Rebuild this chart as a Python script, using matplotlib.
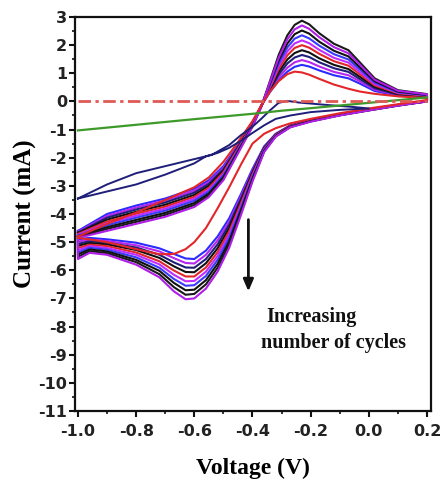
import matplotlib
matplotlib.use("Agg")
import matplotlib.pyplot as plt
from matplotlib.ticker import MultipleLocator

# ---------------- data ----------------
# voltage grids for the anodic (forward) and cathodic (reverse) sweeps
fwd_v = [-1.0, -0.9, -0.8, -0.7, -0.6, -0.55, -0.5, -0.45, -0.4, -0.37, -0.34,
         -0.31, -0.28, -0.255, -0.23, -0.205, -0.17, -0.12, -0.07, -0.03, 0.02, 0.1, 0.2]
rev_v = [0.2, 0.1, 0.0, -0.1, -0.2, -0.27, -0.32, -0.36, -0.4, -0.44, -0.48, -0.52,
         -0.56, -0.6, -0.63, -0.67, -0.72, -0.8, -0.9, -0.96, -1.0]

# first cycle (red)
first_fwd = [-4.8, -4.35, -3.95, -3.5, -3.05, -2.7, -2.15, -1.45, -0.7, -0.15, 0.35,
             0.72, 0.97, 1.06, 1.03, 0.95, 0.8, 0.6, 0.45, 0.35, 0.27, 0.18, 0.12]
first_rev = [0.05, -0.1, -0.25, -0.42, -0.62, -0.78, -0.95, -1.15, -1.5, -2.25, -3.05,
             -3.8, -4.5, -5.0, -5.25, -5.42, -5.43, -5.25, -5.0, -4.9, -4.85]

# subsequent cycles (currents in mA)
cycle_colors = ["#2b2bff", "#b726f0", "#1f1f7a", "#111111", "#e3262a",
                "#c02cff", "#3a3aff", "#111111", "#1a1a1a", "#b01ee8"]
fwd_cycles = [
    [-4.6, -4.0, -3.7, -3.45, -3.1, -2.8, -2.3, -1.55, -0.75, -0.15, 0.33, 0.75, 1.06, 1.23, 1.3, 1.24, 1.10, 0.93, 0.82, 0.63, 0.37, 0.2, 0.16],
    [-4.63, -4.07, -3.77, -3.52, -3.17, -2.87, -2.36, -1.58, -0.77, -0.16, 0.37, 0.85, 1.2, 1.39, 1.47, 1.4, 1.24, 1.05, 0.93, 0.71, 0.42, 0.22, 0.17],
    [-4.66, -4.13, -3.84, -3.59, -3.24, -2.93, -2.41, -1.62, -0.78, -0.16, 0.41, 0.95, 1.35, 1.56, 1.65, 1.58, 1.39, 1.18, 1.05, 0.79, 0.47, 0.24, 0.18],
    [-4.68, -4.2, -3.92, -3.67, -3.32, -3.0, -2.47, -1.65, -0.8, -0.17, 0.46, 1.05, 1.49, 1.72, 1.82, 1.74, 1.53, 1.3, 1.15, 0.87, 0.52, 0.27, 0.19],
    [-4.71, -4.27, -3.99, -3.74, -3.39, -3.07, -2.52, -1.68, -0.82, -0.17, 0.5, 1.15, 1.64, 1.9, 2.0, 1.91, 1.69, 1.43, 1.27, 0.96, 0.57, 0.29, 0.2],
    [-4.74, -4.33, -4.06, -3.81, -3.46, -3.13, -2.58, -1.72, -0.83, -0.18, 0.54, 1.25, 1.78, 2.06, 2.17, 2.07, 1.83, 1.55, 1.38, 1.04, 0.62, 0.31, 0.21],
    [-4.77, -4.4, -4.13, -3.88, -3.53, -3.2, -2.63, -1.75, -0.85, -0.18, 0.59, 1.35, 1.92, 2.23, 2.35, 2.24, 1.98, 1.68, 1.49, 1.13, 0.67, 0.33, 0.22],
    [-4.79, -4.47, -4.21, -3.96, -3.61, -3.27, -2.69, -1.78, -0.87, -0.19, 0.63, 1.45, 2.06, 2.39, 2.52, 2.41, 2.12, 1.8, 1.6, 1.21, 0.72, 0.35, 0.23],
    [-4.82, -4.53, -4.28, -4.03, -3.68, -3.33, -2.74, -1.82, -0.88, -0.19, 0.72, 1.65, 2.35, 2.72, 2.87, 2.74, 2.42, 2.05, 1.82, 1.38, 0.82, 0.4, 0.26],
    [-4.85, -4.6, -4.35, -4.1, -3.75, -3.4, -2.8, -1.85, -0.9, -0.2, 0.68, 1.55, 2.21, 2.56, 2.7, 2.58, 2.28, 1.93, 1.71, 1.3, 0.77, 0.38, 0.25],
]
rev_cycles = [
    [0.02, -0.12, -0.28, -0.45, -0.65, -0.85, -1.15, -1.6, -2.4, -3.3, -4.15, -4.8, -5.3, -5.6, -5.58, -5.42, -5.22, -5.02, -4.9, -4.85, -4.9],
    [0.02, -0.12, -0.28, -0.46, -0.66, -0.86, -1.16, -1.62, -2.45, -3.38, -4.27, -4.94, -5.45, -5.76, -5.74, -5.57, -5.33, -5.11, -4.96, -4.91, -4.98],
    [0.02, -0.13, -0.29, -0.46, -0.67, -0.87, -1.17, -1.64, -2.5, -3.47, -4.38, -5.08, -5.6, -5.91, -5.9, -5.72, -5.45, -5.19, -5.02, -4.97, -5.06],
    [0.01, -0.13, -0.29, -0.47, -0.67, -0.87, -1.18, -1.67, -2.55, -3.55, -4.5, -5.22, -5.75, -6.07, -6.06, -5.86, -5.56, -5.28, -5.08, -5.03, -5.13],
    [0.01, -0.13, -0.3, -0.47, -0.68, -0.88, -1.19, -1.69, -2.6, -3.63, -4.62, -5.36, -5.9, -6.22, -6.22, -6.01, -5.68, -5.37, -5.14, -5.09, -5.21],
    [0.01, -0.14, -0.3, -0.48, -0.69, -0.89, -1.21, -1.71, -2.65, -3.72, -4.73, -5.49, -6.05, -6.38, -6.39, -6.16, -5.79, -5.45, -5.21, -5.14, -5.29],
    [0.01, -0.14, -0.31, -0.48, -0.7, -0.9, -1.22, -1.73, -2.7, -3.8, -4.85, -5.63, -6.2, -6.53, -6.55, -6.31, -5.91, -5.54, -5.27, -5.2, -5.37],
    [0.0, -0.14, -0.31, -0.49, -0.7, -0.9, -1.23, -1.76, -2.75, -3.88, -4.97, -5.77, -6.35, -6.69, -6.71, -6.45, -6.02, -5.63, -5.33, -5.26, -5.44],
    [0.0, -0.15, -0.32, -0.49, -0.71, -0.91, -1.24, -1.78, -2.8, -3.97, -5.08, -5.91, -6.5, -6.84, -6.87, -6.6, -6.14, -5.71, -5.39, -5.32, -5.52],
    [0.0, -0.15, -0.32, -0.5, -0.72, -0.92, -1.25, -1.8, -2.85, -4.05, -5.2, -6.05, -6.65, -7.0, -7.03, -6.75, -6.25, -5.8, -5.45, -5.38, -5.6],
]

# blank / background scan (navy loop)
navy_fwd_v = [-1.0, -0.9, -0.8, -0.7, -0.6, -0.54, -0.48, -0.44, -0.4, -0.37, -0.34,
              -0.31, -0.28, -0.24, -0.15, -0.05, 0.0]
navy_fwd_i = [-3.45, -2.95, -2.55, -2.3, -2.05, -1.9, -1.55, -1.2, -0.9, -0.62, -0.32,
              -0.05, 0.02, -0.04, -0.12, -0.2, -0.25]
navy_rev_v = [0.0, -0.1, -0.2, -0.27, -0.32, -0.36, -0.4, -0.44, -0.48, -0.52, -0.56,
              -0.6, -0.7, -0.8, -0.9, -1.0]
navy_rev_i = [-0.25, -0.3, -0.38, -0.5, -0.62, -0.85, -1.12, -1.4, -1.65, -1.83, -1.95,
              -2.2, -2.6, -2.95, -3.2, -3.45]

# green straight line
green_v = [-1.0, -0.8, -0.6, -0.4, -0.3, -0.2, 0.0, 0.2]
green_i = [-1.03, -0.83, -0.63, -0.44, -0.33, -0.24, -0.05, 0.14]

# zero reference
zero_v = [-1.0, 0.2]
zero_i = [0.0, 0.0]

x_ticks = [-1.0, -0.8, -0.6, -0.4, -0.2, 0.0, 0.2]
x_labels = ["-1.0", "-0.8", "-0.6", "-0.4", "-0.2", "0.0", "0.2"]
y_ticks = [-11, -10, -9, -8, -7, -6, -5, -4, -3, -2, -1, 0, 1, 2, 3]
y_labels = ["-11", "-10", "-9", "-8", "-7", "-6", "-5", "-4", "-3", "-2", "-1", "0", "1", "2", "3"]

# ---------------- figure ----------------
fig = plt.figure(figsize=(4.41, 4.79), dpi=100)
fig.patch.set_facecolor("white")
ax = fig.add_axes([0.170, 0.142, 0.8073, 0.8225])

LW = 1.5
for col, fw, rv in zip(cycle_colors, fwd_cycles, rev_cycles):
    ax.plot(fwd_v + rev_v + [fwd_v[0]], fw + rv + [fw[0]], color=col, lw=LW,
            solid_joinstyle="round")

ax.plot(fwd_v + rev_v + [fwd_v[0]], first_fwd + first_rev + [first_fwd[0]],
        color="#e3262a", lw=LW, solid_joinstyle="round")

ax.plot(navy_fwd_v + navy_rev_v, navy_fwd_i + navy_rev_i, color="#1f1f7a", lw=1.4)
ax.plot(green_v, green_i, color="#3d9a2a", lw=1.6)
ax.plot(zero_v, zero_i, color="#e05a55", lw=2.0, linestyle=(0, (4.5, 1.6, 1.2, 1.6)))

ax.set_xlim(-1.0103, 0.2138)
ax.set_ylim(-11, 3)

ax.set_xticks(x_ticks)
ax.set_xticklabels(x_labels)
ax.set_yticks(y_ticks)
ax.set_yticklabels(y_labels)
ax.xaxis.set_minor_locator(MultipleLocator(0.1))
ax.yaxis.set_minor_locator(MultipleLocator(0.5))

for lab in ax.get_xticklabels() + ax.get_yticklabels():
    lab.set_fontfamily("DejaVu Sans")
    lab.set_fontweight("bold")
    lab.set_fontsize(11.5)
    lab.set_color("#222222")

ax.tick_params(axis="both", which="major", direction="out", length=4.5, width=1.5,
               color="#111111")
ax.tick_params(axis="both", which="minor", direction="out", length=2.5, width=1.2,
               color="#111111")
ax.tick_params(axis="x", which="major", pad=5)
ax.tick_params(axis="y", which="major", pad=1)

for sp in ax.spines.values():
    sp.set_linewidth(1.6)
    sp.set_color("#111111")

ax.set_xlabel("Voltage (V)", family="Liberation Serif", weight="bold", size=17,
              va="center")
ax.xaxis.set_label_coords(0.5, -0.145)
ax.set_ylabel("Current (mA)", family="Liberation Serif", weight="bold", size=18,
              va="center")
ax.yaxis.set_label_coords(-0.14, 0.5)

# arrow and annotation
ax.annotate("", xy=(-0.414, -6.75), xytext=(-0.414, -4.2),
            arrowprops=dict(arrowstyle="-|>,head_width=0.3,head_length=0.7",
                            color="#111111", lw=2.0, shrinkA=0, shrinkB=0))
ax.text(-0.354, -7.66, "Increasing", family="Liberation Serif", weight="bold",
        size=14.5, ha="left", va="center", color="#111111")
ax.text(-0.371, -8.6, "number of cycles", family="Liberation Serif", weight="bold",
        size=14.5, ha="left", va="center", color="#111111")

fig.savefig("out.png", dpi=100, facecolor="white")
